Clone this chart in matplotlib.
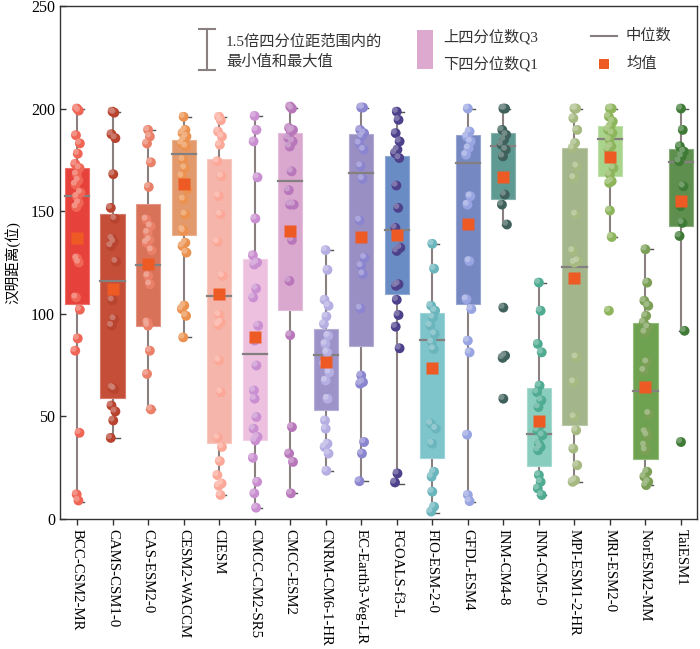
import matplotlib
matplotlib.use("Agg")
import matplotlib.pyplot as plt
import matplotlib.transforms as mtransforms
from matplotlib.patches import Rectangle
import numpy as np

plt.rcParams['font.family'] = ['Liberation Serif', 'Noto Sans CJK SC', 'DejaVu Sans']

models = ["BCC-CSM2-MR", "CAMS-CSM1-0", "CAS-ESM2-0", "CESM2-WACCM", "CIESM",
          "CMCC-CM2-SR5", "CMCC-ESM2", "CNRM-CM6-1-HR", "EC-Earth3-Veg-LR",
          "FGOALS-f3-L", "FIO-ESM-2-0", "GFDL-ESM4", "INM-CM4-8", "INM-CM5-0",
          "MPI-ESM1-2-HR", "MRI-ESM2-0", "NorESM2-MM", "TaiESM1"]

q1 = [104.7, 59.0, 94.2, 138.2, 37.2, 38.3, 102.0, 53.2, 84.5,
      109.5, 29.9, 104.7, 155.7, 25.7, 45.6, 167.0, 29.4, 142.7]
q3 = [171.0, 148.7, 153.7, 184.8, 175.4, 126.5, 188.3, 92.6, 187.7,
      176.7, 100.2, 186.9, 188.0, 63.8, 181.0, 191.3, 95.5, 180.3]
medians = [157.3, 116.0, 123.8, 177.8, 108.7, 80.4, 164.6, 80.0, 168.6,
           140.6, 87.2, 173.5, 181.9, 41.6, 123.0, 185.1, 62.6, 173.8]
means = [136.7, 112.0, 124.4, 163.3, 109.7, 88.5, 140.3, 76.4, 137.5,
         138.2, 73.6, 143.9, 166.5, 48.0, 117.3, 176.4, 64.2, 154.9]
whis_lo = [8.4, 39.5, 53.4, 88.5, 11.7, 5.2, 12.5, 23.5, 18.4,
           17.3, 2.8, 8.4, 143.5, 11.7, 18.1, 137.4, 16.5, 91.7]
whis_hi = [200.0, 198.5, 189.6, 196.0, 196.0, 196.4, 200.5, 131.0, 200.5,
           198.5, 134.1, 200.0, 200.0, 115.2, 200.0, 200.0, 131.4, 200.0]

points = [
    [200, 199, 187, 183, 178, 173, 171, 168, 165, 163, 159, 157, 154, 152, 127, 125, 108, 102, 88, 82, 42, 12, 9],
    [198.5, 198, 187.5, 185.6, 168, 151.6, 146.3, 136.6, 135, 133, 125.4, 106.6, 97.4, 94.2, 64, 63.4, 55.3, 52.4, 48, 39.5],
    [189.6, 186.4, 183, 173.8, 161.8, 146, 142.7, 139.5, 136, 134.6, 131, 118.4, 114.4, 95.8, 94.2, 82, 70.7, 53.4],
    [196, 189.6, 188, 186.4, 184.8, 183, 181.5, 175, 171, 167, 160.5, 155.7, 148.4, 141, 140.3, 134.6, 133, 129.8, 104, 102.3, 99, 88.5],
    [196, 194.3, 188.8, 186.4, 182.4, 174.3, 167, 157.3, 148.4, 135, 118.4, 99.4, 95.8, 94.5, 77.2, 61.8, 39.5, 35.1, 28.2, 21.4, 17.3, 16.2, 11.7],
    [196.4, 189.6, 184, 166.5, 146.4, 128.5, 125, 124, 112.3, 108, 94.2, 86.9, 74.8, 62.6, 58.6, 49.7, 44, 40, 38.3, 29.8, 18.1, 12.5, 5.5],
    [201, 200, 190.5, 189.6, 188.8, 185.6, 184, 181.5, 169.4, 160.2, 153.2, 153.2, 136, 116, 89.6, 44.8, 31.9, 27.8, 12.5],
    [131, 121.4, 106.8, 103.9, 98.7, 95, 89.3, 85.3, 81.2, 75.6, 71.5, 67.5, 58.6, 48, 44, 36.7, 35.1, 31.9, 23.5],
    [200.5, 200.5, 189.6, 188, 186.4, 183, 180, 172, 165.7, 145.5, 127.3, 123.3, 119.3, 102.6, 69.9, 66.7, 65.9, 37.5, 31.9, 18.4],
    [198.5, 194.5, 188, 184, 180, 178.3, 175.9, 162.5, 151.6, 141.9, 132.2, 130.6, 114.4, 113.6, 106.8, 99.4, 93.7, 83.2, 22.2, 17.8],
    [134.1, 122, 103.9, 101.5, 98.2, 94.2, 90.1, 86.1, 82.8, 46.4, 44, 36.7, 23, 20.6, 13.3, 6, 3.6],
    [200, 188.8, 186.4, 184, 180.7, 177.5, 157.3, 153.2, 125.7, 107.1, 102.3, 86.9, 81.2, 41.1, 11.7, 8.7],
    [200, 200, 189.6, 187.2, 184.8, 182.4, 180, 176.7, 158.1, 153.2, 143.5, 103, 79.6, 78.5, 58.6],
    [115.2, 101.5, 85.3, 81.2, 65, 61.8, 57.8, 54.5, 45.6, 43.2, 40.8, 36.7, 35.1, 33.5, 21.4, 18.1, 14.9, 11.7],
    [200, 200, 195.3, 189.6, 183.2, 180.7, 171.8, 166.2, 148.4, 130.6, 125.7, 124.9, 78.8, 66.7, 49.7, 43.2, 34.3, 26.2, 18.9, 18.1],
    [200, 200, 196.1, 193.7, 191.3, 189.6, 188, 184.8, 181.6, 180, 171, 167.8, 164.6, 163.8, 150.3, 137.4, 101.5],
    [131.4, 115.2, 106.3, 103.9, 99, 95.8, 93.4, 90.9, 76.4, 72.3, 51.3, 42.4, 40.8, 35.9, 33.5, 23, 20.6, 18.1, 16.5],
    [200, 189.6, 181.6, 179.1, 176.7, 174.3, 162.1, 152.4, 144.3, 137.9, 91.7, 37.5],
]

box_colors = ["#E6423B", "#C44E38", "#D8735A", "#E29A6C", "#F5B5AB", "#EDC0DF",
              "#DAA7CF", "#9D93C9", "#9A8FC3", "#6A8CC4", "#7EC4CB", "#7688C2",
              "#5F9A92", "#88CDBE", "#A3B68B", "#A9D48C", "#6FA250", "#5F8F4F"]
pt_colors = ["#F06656", "#B8432F", "#EA8068", "#EC9250", "#FBA898", "#C98FD0",
             "#B877BA", "#B4AEE2", "#8B85D0", "#4E418C", "#6BB5BD", "#99A5E2",
             "#3F605B", "#4FAB91", "#A5B981", "#8DB55B", "#7B9F56", "#3F7B36"]

def lighten(c, f):
    rgb = np.array(matplotlib.colors.to_rgb(c))
    return tuple(rgb + (1 - rgb) * f)

fig = plt.figure(figsize=(7.0, 6.49), dpi=100)
ax = fig.add_axes([0.0857, 0.2003, 0.91, 0.7905])

x = np.arange(len(models))
bw = 0.68
jit = [0.0, 0.05, -0.03, 0.08, 0.02, -0.05, 0.07, -0.01, 0.04, -0.04, 0.1, 0.0, 0.05, -0.02]
wcol = "#8A8080"

hl = mtransforms.ScaledTranslation(-1.3 / 72, 1.3 / 72, fig.dpi_scale_trans)

for i in range(len(models)):
    ax.plot([x[i], x[i]], [whis_lo[i], whis_hi[i]], color=wcol, lw=1.5, zorder=1)
    for v in (whis_lo[i], whis_hi[i]):
        ax.plot([x[i] - 0.05, x[i] + 0.2], [v, v], color="#555555", lw=1.0, zorder=1)
    ax.add_patch(Rectangle((x[i] - bw / 2, q1[i]), bw, q3[i] - q1[i],
                           facecolor=box_colors[i], edgecolor=lighten(box_colors[i], 0.25),
                           lw=0.8, zorder=2))
    ax.plot([x[i] - bw / 2, x[i] + bw / 2], [medians[i], medians[i]],
            color="#858080", lw=1.6, zorder=3)
    pv = np.array(points[i], dtype=float)
    px = x[i] + np.array([jit[k % len(jit)] for k in range(len(pv))])
    ax.scatter(px, pv, s=50, color=pt_colors[i], edgecolors="none", zorder=4)
    ax.scatter(px, pv, s=18, color=lighten(pt_colors[i], 0.35), edgecolors="none",
               alpha=0.8, zorder=4.1, transform=ax.transData + hl)
    ax.plot(x[i], means[i], marker="s", ms=8, color="#EE5A24", mec="none", zorder=5)

ax.set_xlim(-0.48, 17.45)
ax.set_ylim(0, 250)
ax.set_yticks([0, 50, 100, 150, 200, 250])
ax.set_xticks(x)
ax.set_xticklabels(models, rotation=-90, fontsize=10.7)
ax.tick_params(axis="y", labelsize=11.5, direction="in", length=4, width=1, color="#333333")
ax.tick_params(axis="x", direction="out", length=4, width=1, color="#333333", pad=3)
for s in ax.spines.values():
    s.set_linewidth(1.0)
    s.set_color("#333333")
ax.set_ylabel("汉明距离(位)", fontsize=10.5)
ax.yaxis.set_label_coords(-0.062, 0.5)

def fx(px):
    return px / 700.0
def fy(py):
    return 1 - py / 649.0

lg = "#8A8080"
fig.add_artist(plt.Line2D([fx(207), fx(207)], [fy(29), fy(70)], color=lg, lw=1.5))
fig.add_artist(plt.Line2D([fx(199), fx(215)], [fy(29), fy(29)], color=lg, lw=1.5))
fig.add_artist(plt.Line2D([fx(199), fx(215)], [fy(70), fy(70)], color=lg, lw=1.5))
fig.text(fx(226), fy(42), "1.5倍四分位距范围内的", fontsize=11, va="center", ha="left", color="#333333")
fig.text(fx(226), fy(61), "最小值和最大值", fontsize=11, va="center", ha="left", color="#333333")

fig.add_artist(Rectangle((fx(417), fy(69)), fx(16), 39 / 649.0, transform=fig.transFigure,
                         facecolor="#DDA9CF", edgecolor="none"))
fig.text(fx(443), fy(37), "上四分位数Q3", fontsize=11, va="center", ha="left", color="#333333")
fig.text(fx(443), fy(64), "下四分位数Q1", fontsize=11, va="center", ha="left", color="#333333")

fig.add_artist(plt.Line2D([fx(591), fx(617)], [fy(36), fy(36)], color="#858080", lw=1.5))
fig.text(fx(626), fy(36), "中位数", fontsize=11, va="center", ha="left", color="#333333")
fig.add_artist(Rectangle((fx(599), fy(69)), fx(10), 10 / 649.0, transform=fig.transFigure,
                         facecolor="#EE5A24", edgecolor="none"))
fig.text(fx(626), fy(64), "均值", fontsize=11, va="center", ha="left", color="#333333")

fig.savefig("out.png", dpi=100)
